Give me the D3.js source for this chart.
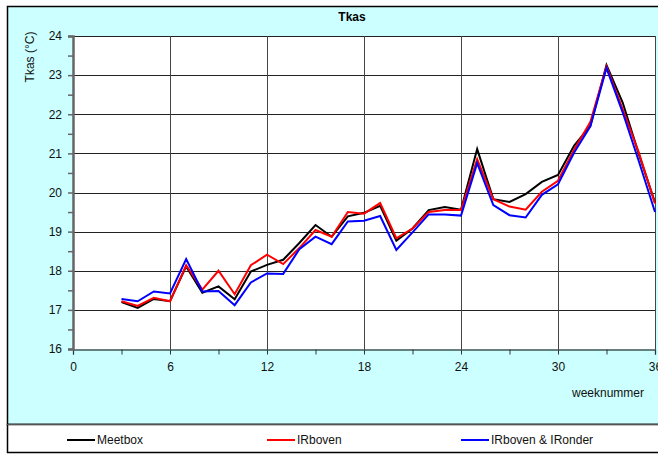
<!DOCTYPE html>
<html>
<head>
<meta charset="utf-8">
<script src="https://cdn.jsdelivr.net/npm/d3@7"></script>
<style>
  html, body { margin: 0; padding: 0; background: #fff; }
  svg { display: block; font-family: Arial, "Liberation Sans", sans-serif; }
</style>
</head>
<body>
<svg id="chart" width="658" height="454"></svg>
<script>
// Weekly mean Tkas temperature per measurement method
const weeks = [3,4,5,6,7,8,9,10,11,12,13,14,15,16,17,18,19,20,21,22,23,24,25,26,27,28,29,30,31,32,33,34,35,36];
const meetbox = [17.2,17.05,17.28,17.22,18.11,17.44,17.6,17.27,17.98,18.15,18.28,18.71,19.17,18.87,19.39,19.48,19.66,18.77,19.08,19.55,19.63,19.56,21.11,19.83,19.76,19.96,20.27,20.45,21.2,21.7,23.26,22.3,20.98,19.74];
const irboven = [17.22,17.1,17.31,17.22,18.14,17.52,18.0,17.4,18.14,18.41,18.17,18.58,19.04,18.87,19.5,19.46,19.73,18.83,19.08,19.5,19.55,19.55,20.85,19.83,19.64,19.56,20.02,20.3,21.1,21.8,23.22,22.13,21.02,19.72];
const irbovenOnder = [17.28,17.22,17.47,17.42,18.3,17.47,17.48,17.12,17.7,17.93,17.92,18.55,18.87,18.68,19.26,19.28,19.4,18.53,18.98,19.44,19.44,19.41,20.75,19.68,19.42,19.36,19.94,20.21,21.02,21.69,23.18,22.05,20.8,19.5];

const seriesNames = ["Meetbox", "IRboven", "IRboven & IRonder"];
const seriesColors = ["#000000", "#ff0000", "#0000ff"];
const seriesValues = [meetbox, irboven, irbovenOnder];

const xTicks = [0, 6, 12, 18, 24, 30, 36];
const yTicks = [16, 17, 18, 19, 20, 21, 22, 23, 24];

const svg = d3.select("#chart");
const W = 658, H = 454;
const plot = { left: 73, right: 655, top: 36, bottom: 349 };

const x = d3.scaleLinear().domain([0, 36]).range([plot.left, plot.right]);
const y = d3.scaleLinear().domain([16, 24]).range([plot.bottom, plot.top]);

// chart frame: cyan chart area, white legend strip below
svg.append("rect").attr("x", 7.5).attr("y", 6.5).attr("width", W).attr("height", 418)
  .attr("fill", "#ccffff").attr("stroke", "#000").attr("stroke-width", 1.5);
svg.append("rect").attr("x", 7.5).attr("y", 424.5).attr("width", W).attr("height", 28)
  .attr("fill", "#fff").attr("stroke", "#000").attr("stroke-width", 1.5);
svg.append("line").attr("x1", 7).attr("x2", W).attr("y1", 424.5).attr("y2", 424.5)
  .attr("stroke", "#555").attr("stroke-width", 1);

// plot area
svg.append("rect").attr("x", plot.left).attr("y", plot.top)
  .attr("width", plot.right - plot.left).attr("height", plot.bottom - plot.top)
  .attr("fill", "#fff");

// gridlines
svg.append("g").selectAll("line").data(yTicks.filter(d => d > 16)).join("line")
  .attr("x1", plot.left).attr("x2", plot.right)
  .attr("y1", d => Math.round(y(d)) + 0.5).attr("y2", d => Math.round(y(d)) + 0.5)
  .attr("stroke", "#222").attr("stroke-width", 1);
svg.append("g").selectAll("line").data(xTicks.filter(d => d > 0)).join("line")
  .attr("x1", d => Math.round(x(d)) + 0.5).attr("x2", d => Math.round(x(d)) + 0.5)
  .attr("y1", plot.top).attr("y2", plot.bottom)
  .attr("stroke", "#444").attr("stroke-width", 1);

// x axis
const xAxis = d3.axisBottom(x).tickValues(d3.range(0, 37, 3)).tickSize(5)
  .tickFormat(d => (d % 6 === 0 ? d : ""));
const gx = svg.append("g").attr("transform", `translate(0,${plot.bottom + 0.5})`).call(xAxis);
gx.select(".domain").attr("stroke", "#000").attr("stroke-width", 1.2);
gx.selectAll(".tick line").attr("stroke", "#333");
gx.selectAll(".tick text").attr("font-size", 12).attr("fill", "#111").attr("dy", "1.1em")
  .attr("font-family", "Arial, 'Liberation Sans', sans-serif");

// y axis
const yAxis = d3.axisLeft(y).tickValues(d3.range(16, 24.01, 0.5)).tickSize(5)
  .tickFormat(d => (Number.isInteger(d) ? d : ""));
const gy = svg.append("g").attr("transform", `translate(${plot.left},0)`).call(yAxis);
gy.select(".domain").attr("stroke", "#666").attr("stroke-width", 2.5);
gy.selectAll(".tick line").attr("stroke", "#666").attr("stroke-width", 1.5);
gy.selectAll(".tick text").attr("font-size", 12).attr("fill", "#111").attr("x", -11)
  .attr("font-family", "Arial, 'Liberation Sans', sans-serif");

// series lines
const line = d3.line().x((d, i) => x(weeks[i])).y(d => y(d));
seriesValues.forEach((vals, k) => {
  svg.append("path").datum(vals)
    .attr("d", line)
    .attr("fill", "none")
    .attr("stroke", seriesColors[k])
    .attr("stroke-width", 2)
    .attr("stroke-linejoin", "miter");
});

// titles
svg.append("text").attr("x", 352).attr("y", 21).attr("text-anchor", "middle")
  .attr("font-size", 12).attr("font-weight", "bold").attr("fill", "#000").text("Tkas");
svg.append("text").attr("transform", "translate(34,57) rotate(-90)")
  .attr("text-anchor", "middle").attr("font-size", 12).attr("fill", "#111").text("Tkas (°C)");
svg.append("text").attr("x", 644).attr("y", 397).attr("text-anchor", "end")
  .attr("font-size", 12).attr("fill", "#111").text("weeknummer");

// legend
const legendX = [67, 267, 461];
const legend = svg.append("g").selectAll("g").data(seriesNames).join("g")
  .attr("transform", (d, i) => `translate(${legendX[i]},440)`);
legend.append("line").attr("x1", 0).attr("x2", 28).attr("y1", 0).attr("y2", 0)
  .attr("stroke", (d, i) => seriesColors[i]).attr("stroke-width", 2);
legend.append("text").attr("x", 30).attr("y", 4).attr("font-size", 12).attr("fill", "#111")
  .text(d => d);
</script>
</body>
</html>
